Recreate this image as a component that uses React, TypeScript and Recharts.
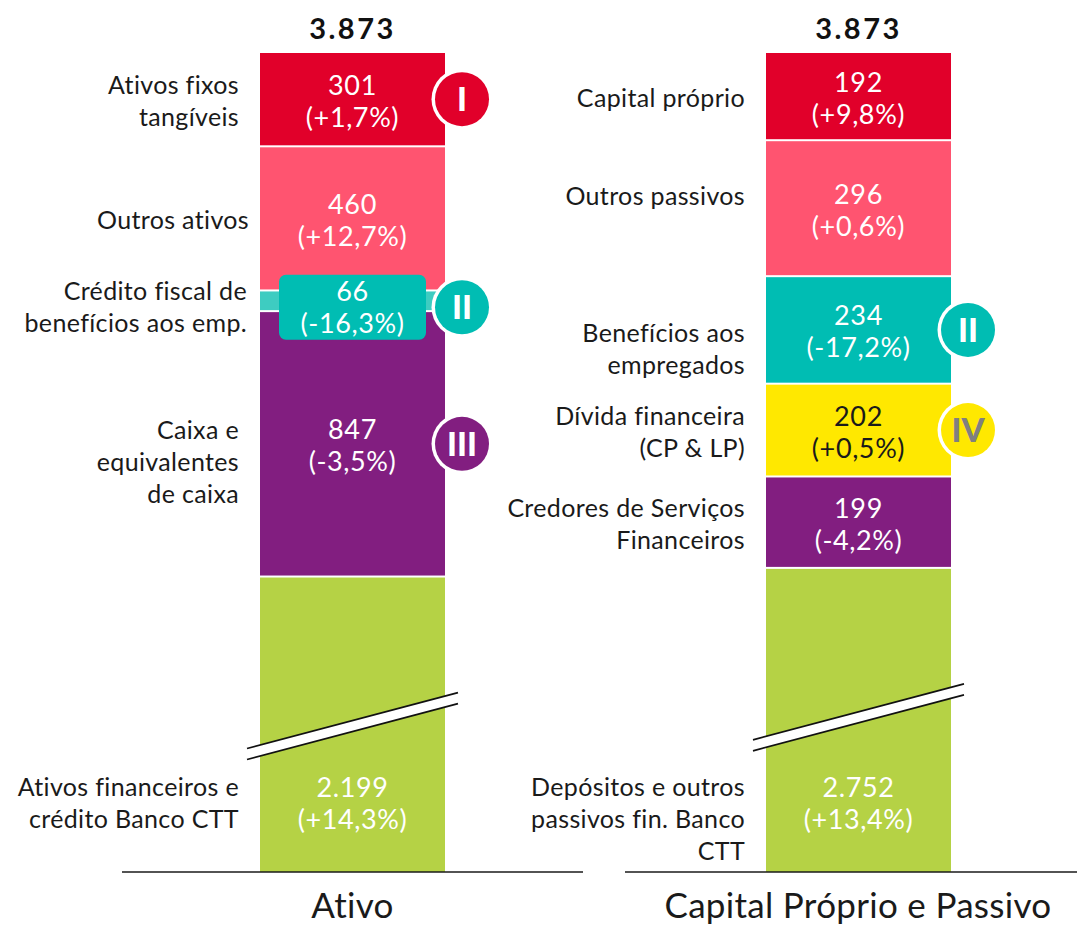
import React from 'react';
import { BarChart, Bar, XAxis, YAxis, LabelList } from 'recharts';

// ---------- data (bottom segment first) ----------
const ativoCategories = [
  ['Ativos financeiros e', 'crédito Banco CTT'],
  ['Caixa e', 'equivalentes', 'de caixa'],
  ['Crédito fiscal de', 'benefícios aos emp.'],
  ['Outros ativos'],
  ['Ativos fixos', 'tangíveis'],
];
const ativoValues = [2199, 847, 66, 460, 301];
const ativoChanges = ['+14,3%', '-3,5%', '-16,3%', '+12,7%', '+1,7%'];
const ativoBadges = ['', 'III', 'II', '', 'I'];

const passivoCategories = [
  ['Depósitos e outros', 'passivos fin. Banco', 'CTT'],
  ['Credores de Serviços', 'Financeiros'],
  ['Dívida financeira', '(CP & LP)'],
  ['Benefícios aos', 'empregados'],
  ['Outros passivos'],
  ['Capital próprio'],
];
const passivoValues = [2752, 199, 202, 234, 296, 192];
const passivoChanges = ['+13,4%', '-4,2%', '+0,5%', '-17,2%', '+0,6%', '+9,8%'];
const passivoBadges = ['', '', 'IV', 'II', '', ''];

const axisLabels = ['Ativo', 'Capital Próprio e Passivo'];
const totalLabels = ['3.873', '3.873'];
// bottom segment is drawn on a broken axis: the length actually shown for it
const brokenShown = [943, 662];

// ---------- styles ----------
const FONT = 'Lato, "Noto Sans", sans-serif';
const ativoColors = ['#B5D245', '#821E80', '#3ECCC1', '#FF5470', '#E1002A'];
const passivoColors = ['#B5D245', '#821E80', '#FFE800', '#00BDB3', '#FF5470', '#E1002A'];
const badgeColors: Record<string, string> = { I: '#E1002A', II: '#00BDB3', III: '#821E80', IV: '#FFE800' };
const badgeText: Record<string, string> = { I: '#fff', II: '#fff', III: '#fff', IV: '#808080' };
const labelNudge: Record<string, { dx?: number; dy?: number }> = {
  'Outros ativos': { dx: 10 },
  'Crédito fiscal de': { dx: 8 },
  'Outros passivos': { dy: -14 },
  'Benefícios aos': { dy: 17 },
};

function fmt(n: number) {
  return String(n).replace(/\B(?=(\d{3})+(?!\d))/g, '.');
}

function AxisTick(p: any) {
  return (
    <text x={p.x} y={p.y + 46} textAnchor="middle" fontSize={35} letterSpacing={0.3} fontFamily={FONT} fill="#1a1a1a">
      {p.payload.value}
    </text>
  );
}

type PanelProps = {
  cats: string[][];
  values: number[];
  changes: string[];
  badges: string[];
  colors: string[];
  shown: number;
  axisLabel: string;
  total: string;
  width: number;
  margin: { top: number; right: number; bottom: number; left: number };
  padLeft: number;
  mode: 'bars' | 'labels';
};

function Panel({ cats, values, changes, badges, colors, shown, axisLabel, total, width, margin, padLeft, mode }: PanelProps) {
  const row: any = { name: axisLabel };
  values.forEach((v, i) => {
    row['s' + i] = i === 0 ? shown : v;
  });
  const domainMax = shown + values.slice(1).reduce((a, b) => a + b, 0);
  const last = values.length - 1;

  const renderShape = (i: number) => (p: any) => {
    if (mode === 'labels') return <g />;
    const { x, y, width: w, height: h } = p;
    if (i === 0) {
      const midY = y + 144;
      const cx = x + w / 2;
      const slope = 0.265;
      const x1 = x - 12;
      const x2 = x + w + 12;
      const y1 = midY + slope * (cx - x1);
      const y2 = midY - slope * (x2 - cx);
      const gap = 11;
      return (
        <g>
          <rect x={x + 1} y={y + 1} width={w - 2} height={h - 1} fill={colors[i]} />
          <polygon points={`${x1},${y1} ${x2},${y2} ${x2},${y2 + gap} ${x1},${y1 + gap}`} fill="#fff" />
          <line x1={x1} y1={y1} x2={x2} y2={y2} stroke="#111" strokeWidth={1.7} />
          <line x1={x1} y1={y1 + gap} x2={x2} y2={y2 + gap} stroke="#111" strokeWidth={1.7} />
        </g>
      );
    }
    return <rect x={x + 1} y={y + 1} width={w - 2} height={h - 2} fill={colors[i]} />;
  };

  const renderLabel = (i: number) => (p: any) => {
    const vb = p.viewBox && p.viewBox.width != null ? p.viewBox : p;
    const x = Number(vb.x);
    const y = Number(vb.y);
    const w = Number(vb.width);
    const h = Number(vb.height);
    const cx = x + w / 2;
    const thin = h < 40;
    let c: number;
    if (i === 0) c = y + h - 69;
    else if (thin) c = y + h / 2 + 6.5;
    else c = y + h / 2 + 2;
    const txtColor = colors[i] === '#FFE800' ? '#1a1a1a' : '#fff';
    const lines = cats[i];
    const nudge = labelNudge[lines[0]] || {};
    const lx = x - 20 + (nudge.dx || 0);
    const badge = badges[i];
    const by = thin ? c : y + h / 2;
    const bx = x + w + 16;
    return (
      <g>
        {thin && (
          <rect x={cx - 73.5} y={c - 32.5} width={147} height={65} rx={7} fill={badgeColors[badge] || colors[i]} />
        )}
        <text x={cx} y={c - 16 + 9.5} textAnchor="middle" fontSize={27} letterSpacing={0.6} fontFamily={FONT} fill={txtColor}>
          {fmt(values[i])}
        </text>
        <text x={cx} y={c + 16 + 9.5} textAnchor="middle" fontSize={27} letterSpacing={0.6} fontFamily={FONT} fill={txtColor}>
          {`(${changes[i]})`}
        </text>
        {lines.map((ln, k) => {
          const lc = lines.length === 1 ? c : c - 16 + k * 32;
          return (
            <text key={k} x={lx} y={lc + 9 + (nudge.dy || 0)} textAnchor="end" fontSize={25} letterSpacing={0.35} fontFamily={FONT} fill="#1a1a1a">
              {ln}
            </text>
          );
        })}
        {badge && (
          <g>
            <circle cx={bx} cy={by} r={30.5} fill="#fff" />
            <circle cx={bx} cy={by} r={27} fill={badgeColors[badge]} />
            <text x={bx} y={by + 12} textAnchor="middle" fontSize={33} fontWeight={900} fontFamily={FONT} fill={badgeText[badge]}>
              {badge}
            </text>
          </g>
        )}
        {i === last && (
          <text x={cx} y={y - 13} textAnchor="middle" fontSize={29} letterSpacing={2.5} fontWeight={700} fontFamily={FONT} fill="#111">
            {total}
          </text>
        )}
      </g>
    );
  };

  return (
    <BarChart width={width} height={926} data={[row]} margin={margin} barSize={187}>
      <XAxis
        dataKey="name"
        height={54}
        padding={{ left: padLeft, right: 0 }}
        tickLine={false}
        tickSize={0}
        tickMargin={0}
        axisLine={mode === 'bars' ? { stroke: '#1a1a1a', strokeWidth: 1.5 } : false}
        tick={mode === 'bars' ? <AxisTick /> : false}
      />
      <YAxis hide type="number" domain={[0, domainMax]} allowDataOverflow />
      {values.map((v, i) => (
        <Bar key={i} dataKey={'s' + i} stackId="a" fill={colors[i]} isAnimationActive={false} shape={renderShape(i)}>
          {mode === 'labels' && <LabelList dataKey={'s' + i} content={renderLabel(i)} />}
        </Bar>
      ))}
    </BarChart>
  );
}

export default function App() {
  const left = {
    cats: ativoCategories,
    values: ativoValues,
    changes: ativoChanges,
    badges: ativoBadges,
    colors: ativoColors,
    shown: brokenShown[0],
    axisLabel: axisLabels[0],
    total: totalLabels[0],
    width: 600,
    margin: { top: 52, right: 17, bottom: 0, left: 122 },
    padLeft: 0,
  };
  const right = {
    cats: passivoCategories,
    values: passivoValues,
    changes: passivoChanges,
    badges: passivoBadges,
    colors: passivoColors,
    shown: brokenShown[1],
    axisLabel: axisLabels[1],
    total: totalLabels[1],
    width: 598,
    margin: { top: 52, right: 11, bottom: 0, left: 135 },
    padLeft: 14,
  };
  const abs = (l: number): React.CSSProperties => ({ position: 'absolute', left: l, top: 0 });
  return (
    <div style={{ position: 'absolute', left: 0, top: 0, width: 1088, height: 926, background: '#fff' }}>
      <div style={abs(0)}><Panel {...left} mode="bars" /></div>
      <div style={abs(490)}><Panel {...right} mode="bars" /></div>
      <div style={abs(0)}><Panel {...left} mode="labels" /></div>
      <div style={abs(490)}><Panel {...right} mode="labels" /></div>
    </div>
  );
}
